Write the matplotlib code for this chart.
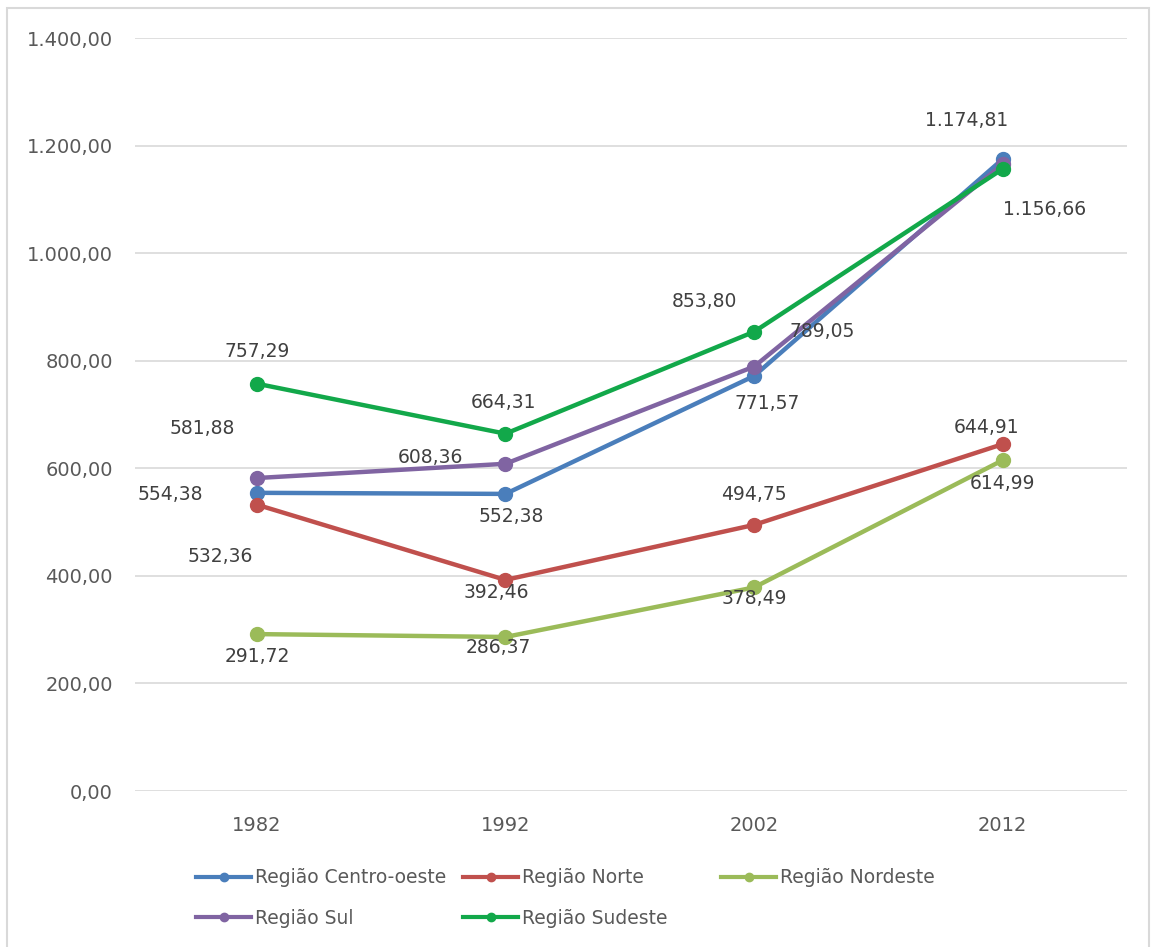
import matplotlib
matplotlib.use("Agg")
import matplotlib.pyplot as plt
from matplotlib.patches import Rectangle
from matplotlib.ticker import FuncFormatter

YEARS = ["1982", "1992", "2002", "2012"]

SERIES = ["Região Centro-oeste", "Região Norte", "Região Nordeste", "Região Sul", "Região Sudeste"]
CENTRO_OESTE = [554.38, 552.38, 771.57, 1174.81]
NORTE = [532.36, 392.46, 494.75, 644.91]
NORDESTE = [291.72, 286.37, 378.49, 614.99]
SUL = [581.88, 608.36, 789.05, 1165.00]   # 2012 label hidden in the original
SUDESTE = [757.29, 664.31, 853.80, 1156.66]

COLORS = ["#4a7ebb", "#c0504d", "#9bbb59", "#8064a2", "#12a84a"]

# label offsets in pixels (dx, dy) per point; None = no label
OFFSETS = {
    "Região Centro-oeste": [(-87, -2), (6, -23), (13, -27), (-36, 39)],
    "Região Norte": [(-37, -52), (-9, -13), (0, 30), (-16, 17)],
    "Região Nordeste": [(0, -22), (-7, -11), (0, -11), (0, -23)],
    "Região Sul": [(-55, 50), (-75, 6), (68, 35), None],
    "Região Sudeste": [(0, 32), (-2, 31), (-50, 30), (42, -41)],
}

# legend columns as laid out in the original (left pixel of each column)
LEGEND_COLS = [(187, ["Região Centro-oeste", "Região Sul"]),
               (454, ["Região Norte", "Região Sudeste"]),
               (712, ["Região Nordeste"])]


def br(v, _=None):
    s = f"{v:,.2f}"
    return s.replace(",", "X").replace(".", ",").replace("X", ".")


plt.rcParams["font.family"] = ["DejaVu Sans"]

W, H = 1151, 947
fig = plt.figure(figsize=(W / 100, H / 100), dpi=100)
fig.patches.append(Rectangle((7 / W, -0.01), (1149 - 7) / W, 1 - 8 / H + 0.01,
                             transform=fig.transFigure, fill=False, ec="#d9d9d9", lw=1.5))
ax = fig.add_axes([135 / W, 1 - 791 / H, (1127 - 135) / W, (791 - 38) / H])

x = range(len(YEARS))
data = [CENTRO_OESTE, NORTE, NORDESTE, SUL, SUDESTE]
handles = {}
for name, vals, col in zip(SERIES, data, COLORS):
    (ln,) = ax.plot(x, vals, color=col, lw=3.2, marker="o", ms=10, zorder=3)
    handles[name] = ln
    for i, v in enumerate(vals):
        off = OFFSETS[name][i]
        if off is None:
            continue
        ax.annotate(br(v), (i, v), xytext=off, textcoords="offset pixels",
                    ha="center", va="center", fontsize=13.5, color="#404040", zorder=4)

ax.set_xlim(-0.49, 3.5)
ax.set_ylim(0, 1400)
ax.set_yticks(range(0, 1401, 200))
ax.yaxis.set_major_formatter(FuncFormatter(br))
ax.set_xticks(list(x))
ax.set_xticklabels(YEARS)
ax.grid(axis="y", color="#dcdcdc", lw=1.3)
ax.set_axisbelow(True)
for s in ax.spines.values():
    s.set_visible(False)
ax.tick_params(length=0, labelsize=14, labelcolor="#595959")
ax.tick_params(axis="y", pad=16)
ax.tick_params(axis="x", pad=18)

for left, names in LEGEND_COLS:
    hs = [plt.Line2D([], [], color=handles[n].get_color(), lw=3, marker="o", ms=6) for n in names]
    fig.legend(hs, names, loc="upper left", bbox_to_anchor=(left / W, 1 - 859 / H),
               frameon=False, fontsize=13.5, handlelength=2.9, handletextpad=0.25,
               borderpad=0, labelspacing=1.15, labelcolor="#595959")

fig.savefig("out.png", dpi=100)
